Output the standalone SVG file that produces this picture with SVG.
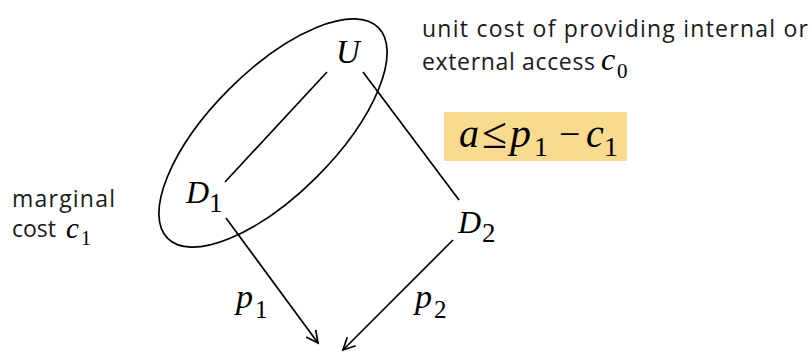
<svg xmlns="http://www.w3.org/2000/svg" width="812" height="352" viewBox="0 0 812 352">
<style>
.m{font-family:"Liberation Serif","DejaVu Serif",serif;font-style:italic;fill:#000}
.d{font-family:"Liberation Serif","DejaVu Serif",serif;font-style:normal;fill:#000}
.t{font-family:"Open Sans","Liberation Sans",sans-serif;font-size:23px;fill:#1a1a1a}
.ln{stroke:#000;stroke-width:1.7;fill:none}
</style>
<defs>
<marker id="ah" markerUnits="userSpaceOnUse" markerWidth="16" markerHeight="16" refX="13" refY="7" orient="auto">
<path d="M1,1 L13,7 L1,13" fill="none" stroke="#000" stroke-width="1.7"/>
</marker>
</defs>
<rect width="812" height="352" fill="#fff"/>
<g id="group-ellipse">
<ellipse cx="273" cy="133" rx="149" ry="62" transform="rotate(-45 273 133)" class="ln"/>
</g>
<g id="connectors">
<line x1="327" y1="72" x2="225" y2="182" class="ln"/>
<line x1="363" y1="72" x2="459" y2="200" class="ln"/>
<line x1="226" y1="218" x2="318" y2="343" class="ln" marker-end="url(#ah)"/>
<line x1="453" y1="240" x2="343" y2="350" class="ln" marker-end="url(#ah)"/>
</g>
<g id="node-U"><text class="m" x="336" y="63" font-size="33">U</text></g>
<g id="node-D1"><text class="m" x="186" y="203" font-size="32">D</text><text class="d" x="209" y="212" font-size="27">1</text></g>
<g id="node-D2"><text class="m" x="458" y="233" font-size="32">D</text><text class="d" x="482" y="242" font-size="27">2</text></g>
<g id="label-p1"><text class="m" x="236" y="308" font-size="34">p</text><text class="d" x="255" y="318" font-size="25">1</text></g>
<g id="label-p2"><text class="m" x="415" y="308" font-size="34">p</text><text class="d" x="434" y="318" font-size="25">2</text></g>
<g id="label-c0">
<text class="t" x="422" y="37" textLength="386">unit cost of providing internal or</text>
<text class="t" x="422" y="70" textLength="173">external access</text>
<text class="m" x="601" y="70" font-size="32">c</text><text class="d" x="617" y="78" font-size="21">0</text>
</g>
<g id="label-c1">
<text class="t" x="12" y="207" textLength="103">marginal</text>
<text class="t" x="12" y="237">cost</text>
<text class="m" x="66" y="238" font-size="29">c</text><text class="d" x="81" y="245" font-size="20">1</text>
</g>
<g id="condition">
<rect x="444" y="112" width="183" height="49" fill="#FADA8E"/>
<text class="m" x="459" y="147" font-size="40">a</text>
<text class="d" x="482" y="148" font-size="44" textLength="25" lengthAdjust="spacingAndGlyphs">≤</text>
<text class="m" x="510" y="147" font-size="42">p</text>
<text class="d" x="534" y="156" font-size="28">1</text>
<text class="d" x="559" y="147" font-size="38">−</text>
<text class="m" x="586" y="147" font-size="40">c</text>
<text class="d" x="604" y="156" font-size="28">1</text>
</g>
</svg>
